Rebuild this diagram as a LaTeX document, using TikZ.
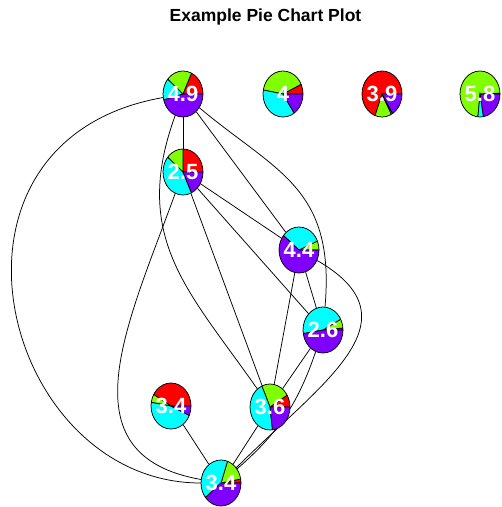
\documentclass[tikz,border=0pt]{standalone}
\usepackage{fontspec}
\setmainfont{Liberation Sans}
\usepackage{tikz}
\usetikzlibrary{shapes.geometric,backgrounds}

\definecolor{pred}{HTML}{FF0000}
\definecolor{pgreen}{HTML}{80FF00}
\definecolor{pcyan}{HTML}{00FFFF}
\definecolor{ppurple}{HTML}{8000FF}

\tikzset{
  edge/.style={black, line width=0.75pt},
  pielabel/.style={text=white, font=\bfseries\fontsize{22}{22}\selectfont, inner sep=0pt},
  pie/.style n args={4}{ellipse, minimum width=40pt, minimum height=46pt, inner sep=0pt,
    draw=black, line width=0.75pt, label={[pielabel]center:#4},
    path picture={
      \foreach \from/\to/\col in {0/#1/pred,#1/#2/pgreen,#2/#3/pcyan,#3/360/ppurple}
        \filldraw[fill=\col, draw=black, line width=0.75pt] (path picture bounding box.center) -- ++(\from:30 and 34.5) arc[start angle=\from, end angle=\to, x radius=30, y radius=34.5] -- cycle;
    }},
}

\begin{document}
\begin{tikzpicture}[x=1pt,y=1pt]
\useasboundingbox (0,0) rectangle (502,-507);
\node[font=\bfseries\fontsize{17.5}{20}\selectfont] (title) at (265.5,-17) {Example Pie Chart Plot};
\node[pie={65}{140}{195}{4.9}] (n1) at (183,-94) {};
\node[pie={25}{170}{304}{4}] (n2) at (283,-94) {};
\node[pie={250}{298}{302}{3.9}] (n3) at (382,-94) {};
\node[pie={2}{264}{280}{5.8}] (n4) at (480,-94) {};
\node[pie={90}{140}{295}{2.5}] (n5) at (183,-172) {};
\node[pie={0}{23}{141}{4.4}] (n6) at (299,-250) {};
\node[pie={5}{28}{189}{2.6}] (n7) at (323,-330) {};
\node[pie={150}{171}{336}{3.4}] (n8) at (171,-406) {};
\node[pie={31}{114}{277}{3.6}] (n9) at (270,-407) {};
\node[pie={10}{71}{219}{3.4}] (n10) at (221,-483) {};
\begin{pgfonlayer}{background}
\draw[edge] (n1) -- (n5);
\draw[edge] (n1) -- (n6);
\draw[edge] (n1) to[out=320,in=85,out distance=100,in distance=120] (n7);
\draw[edge] (n1) to[out=250,in=125,out distance=130,in distance=120] (n9);
\draw[edge] (n1) to[out=190,in=180,out distance=250,in distance=200] (n10);
\draw[edge] (n5) -- (n6);
\draw[edge] (n5) -- (n7);
\draw[edge] (n5) -- (n9);
\draw[edge] (n5) to[out=250,in=170,distance=140] (n10);
\draw[edge] (n6) -- (n7);
\draw[edge] (n6) -- (n9);
\draw[edge] (n6) to[out=330,in=45,distance=120] (n10);
\draw[edge] (n7) -- (n9);
\draw[edge] (n7) to[bend left=15] (n10);
\draw[edge] (n8) -- (n10);
\draw[edge] (n9) -- (n10);
\end{pgfonlayer}
\end{tikzpicture}
\end{document}
